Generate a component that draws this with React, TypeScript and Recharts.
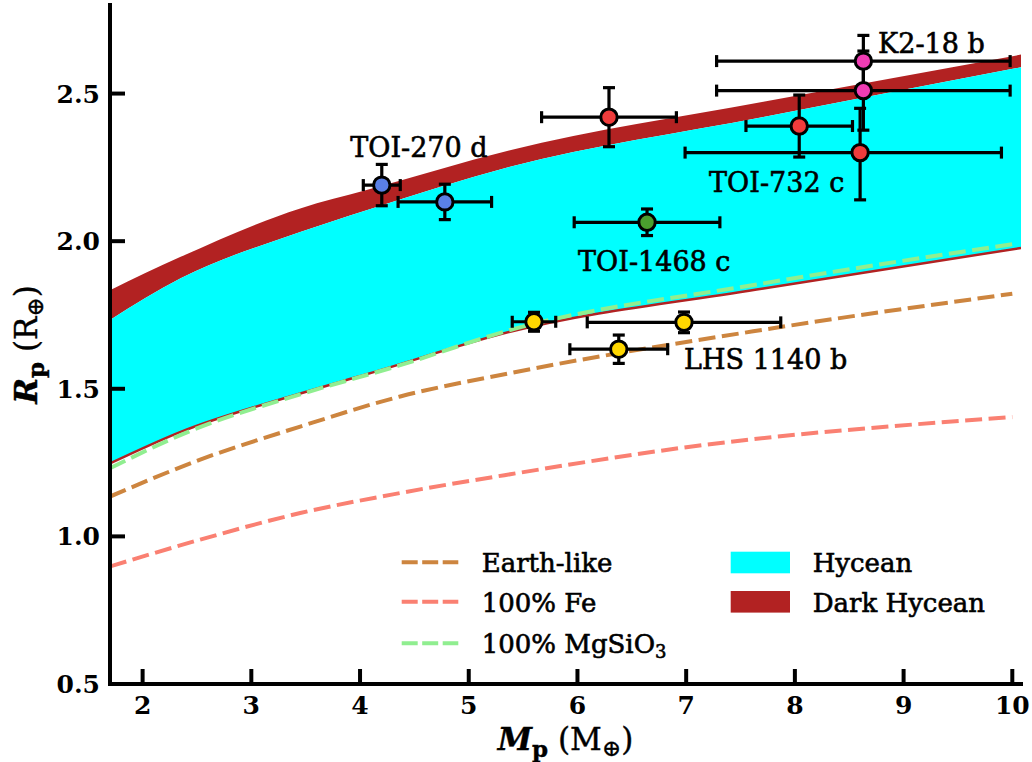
import React from 'react';
import {
  ComposedChart,
  Area,
  Line,
  Scatter,
  ErrorBar,
  XAxis,
  YAxis,
  ReferenceDot,
} from 'recharts';

const FONT = '"DejaVu Serif", serif';

const xTicks = [2, 3, 4, 5, 6, 7, 8, 9, 10];
const yTicks = [0.5, 1.0, 1.5, 2.0, 2.5];

// Hycean / Dark Hycean region edges (mass in M_earth, radius in R_earth)
const bandMass = [1.7, 2.35, 3.45, 4.06, 5.38, 7.71, 10.08];
const hyceanLow = [1.247, 1.354, 1.484, 1.549, 1.693, 1.84, 1.977];
const hyceanHigh = [1.733, 1.874, 2.031, 2.105, 2.252, 2.421, 2.589];
const darkHigh = [1.834, 1.947, 2.111, 2.173, 2.308, 2.472, 2.632];

// composition curves
const earthMass = [1.7, 2.53, 3.45, 4.37, 5.38, 7.71, 10.0];
const earthRadius = [1.135, 1.26, 1.372, 1.474, 1.553, 1.7, 1.822];
const feMass = [1.7, 2.53, 3.45, 4.37, 5.44, 6.94, 10.0];
const feRadius = [0.898, 0.989, 1.079, 1.147, 1.214, 1.299, 1.404];
const mgsiMass = [1.7, 2.47, 3.45, 4.37, 5.38, 7.71, 10.0];
const mgsiRadius = [1.231, 1.362, 1.481, 1.58, 1.699, 1.857, 1.99];

// planets: ex / ey are errors, [lower, upper] when asymmetric
const toi270 = [
  { x: 4.2, y: 2.19, ex: 0.17, ey: 0.07 },
  { x: 4.78, y: 2.133, ex: 0.43, ey: 0.06 },
];
const k218 = [
  { x: 8.63, y: 2.61, ex: 1.35, ey: 0.087 },
  { x: 8.63, y: 2.51, ex: 1.35, ey: 0.134 },
];
const toi732 = [
  { x: 6.29, y: 2.42, ex: 0.62, ey: 0.1 },
  { x: 8.04, y: 2.39, ex: 0.49, ey: 0.105 },
  { x: 8.6, y: 2.3, ex: [1.61, 1.3], ey: [0.16, 0.15] },
];
const toi1468 = [{ x: 6.64, y: 2.064, ex: 0.67, ey: 0.045 }];
const lhs1140 = [
  { x: 5.6, y: 1.727, ex: 0.2, ey: 0.032 },
  { x: 6.98, y: 1.725, ex: 0.89, ey: 0.035 },
  { x: 6.38, y: 1.634, ex: 0.45, ey: 0.048 },
];

const labelNames = ['TOI-270 d', 'K2-18 b', 'TOI-732 c', 'TOI-1468 c', 'LHS 1140 b'];
const labelMass = [3.91, 8.765, 7.211, 6.006, 6.981];
const labelRadius = [2.285, 2.636, 2.167, 1.898, 1.567];

const bands = bandMass.map((x, i) => ({
  x,
  low: hyceanLow[i],
  high: hyceanHigh[i],
  top: darkHigh[i],
}));
const toSeries = (xs: number[], ys: number[]) => xs.map((x, i) => ({ x, y: ys[i] }));
const earth = toSeries(earthMass, earthRadius);
const fe = toSeries(feMass, feRadius);
const mgsi = toSeries(mgsiMass, mgsiRadius);

const planets = [
  { data: toi270, color: '#5a80e6' },
  { data: k218, color: '#f03cb4' },
  { data: toi732, color: '#f03c3c' },
  { data: toi1468, color: '#4a9e2e' },
  { data: lhs1140, color: '#ffd700' },
];

const TICK_LEN = 15;
// regular text thickened a little, the figure's labels are heavier than a plain book weight
const heavy = { fontFamily: FONT, fill: '#000', stroke: '#000', strokeWidth: 0.6 };

const BottomTick = ({ x, y, payload }: any) => (
  <g>
    <line x1={x} y1={y} x2={x} y2={y - TICK_LEN} stroke="#000" strokeWidth={4} />
    <text x={x} y={y + 30} textAnchor="middle" fontFamily={FONT} fontWeight="bold" fontSize={25} fill="#000">
      {payload.value}
    </text>
  </g>
);
const TopTick = ({ x, y }: any) => (
  <line x1={x} y1={y} x2={x} y2={y + TICK_LEN} stroke="#000" strokeWidth={4} />
);
const LeftTick = ({ x, y, payload }: any) => (
  <g>
    <line x1={x} y1={y} x2={x + TICK_LEN} y2={y} stroke="#000" strokeWidth={4} />
    <text x={x - 10} y={y + 9} textAnchor="end" fontFamily={FONT} fontWeight="bold" fontSize={25} fill="#000">
      {Number(payload.value).toFixed(1)}
    </text>
  </g>
);
const RightTick = ({ x, y }: any) => (
  <line x1={x - TICK_LEN} y1={y} x2={x} y2={y} stroke="#000" strokeWidth={4} />
);

const XTitle = ({ viewBox }: any) => (
  <text x={viewBox.x + viewBox.width / 2} y={750} textAnchor="middle" fontSize={31} {...heavy} strokeWidth={0.4}>
    <tspan fontStyle="italic" fontWeight="bold">M</tspan>
    <tspan fontWeight="bold" fontSize={23} dy={7}>p</tspan>
    <tspan dy={-7}>{'\u00a0(M'}</tspan>
    <tspan fontSize={23} dy={6}>⊕</tspan>
    <tspan dy={-6}>)</tspan>
  </text>
);
const YTitle = ({ viewBox }: any) => {
  const cy = viewBox.y + viewBox.height / 2;
  return (
    <text
      x={37}
      y={cy}
      transform={`rotate(-90, 37, ${cy})`}
      textAnchor="middle"
      fontSize={31}
      {...heavy}
      strokeWidth={0.4}
    >
      <tspan fontStyle="italic" fontWeight="bold">R</tspan>
      <tspan fontWeight="bold" fontSize={23} dy={7}>p</tspan>
      <tspan dy={-7}>{'\u00a0(R'}</tspan>
      <tspan fontSize={23} dy={6}>⊕</tspan>
      <tspan dy={-6}>)</tspan>
    </text>
  );
};

const Marker = (color: string) => (props: any) =>
  <circle cx={props.cx} cy={props.cy} r={8.2} fill={color} stroke="#000" strokeWidth={3} />;

const DASH = '17 6.5';
const LEGEND_DASH = '16 4.5';

function LegendBox() {
  const txt = { ...heavy, fontSize: 26 };
  return (
    <svg width={630} height={130} style={{ position: 'absolute', left: 395, top: 535 }}>
      <line x1={6.7} y1={27.3} x2={63.3} y2={27.3} stroke="#CD853F" strokeWidth={4} strokeDasharray={LEGEND_DASH} />
      <text x={86.7} y={37.3} {...txt}>Earth-like</text>
      <line x1={6.7} y1={66.7} x2={63.3} y2={66.7} stroke="#FA8072" strokeWidth={4} strokeDasharray={LEGEND_DASH} />
      <text x={86.7} y={76.7} {...txt}>100% Fe</text>
      <line x1={6.7} y1={108.3} x2={63.3} y2={108.3} stroke="#90EE90" strokeWidth={4} strokeDasharray={LEGEND_DASH} />
      <text x={86.7} y={118.3} {...txt}>
        <tspan>100% MgSiO</tspan>
        <tspan fontSize={18} dy={5}>3</tspan>
      </text>
      <rect x={335.7} y={16.7} width={59.3} height={21.6} fill="#00FFFF" />
      <text x={417.7} y={37.3} {...txt}>Hycean</text>
      <rect x={335.7} y={56} width={59.3} height={21.6} fill="#B22222" />
      <text x={417.7} y={76.7} {...txt}>Dark Hycean</text>
    </svg>
  );
}

export default function App() {
  return (
    <div style={{ position: 'absolute', left: 0, top: 0, width: 1032, height: 762, background: '#fff' }}>
      <ComposedChart width={1032} height={762} margin={{ top: 5, right: 11, bottom: 0, left: 10 }}>
        <Area
          data={bands}
          xAxisId="b"
          yAxisId="l"
          type="monotone"
          dataKey={(d: any) => [d.high, d.top]}
          fill="#B22222"
          fillOpacity={1}
          stroke="none"
          isAnimationActive={false}
        />
        <Area
          data={bands}
          xAxisId="b"
          yAxisId="l"
          type="monotone"
          dataKey={(d: any) => [d.low, d.high]}
          fill="#00FFFF"
          fillOpacity={1}
          stroke="none"
          isAnimationActive={false}
        />
        <Line data={bands} xAxisId="b" yAxisId="l" type="monotone" dataKey="low" stroke="#B22222" strokeWidth={2.5} dot={false} activeDot={false} isAnimationActive={false} />
        <Line data={earth} xAxisId="b" yAxisId="l" type="monotone" dataKey="y" stroke="#CD853F" strokeWidth={4} strokeDasharray={DASH} dot={false} activeDot={false} isAnimationActive={false} />
        <Line data={fe} xAxisId="b" yAxisId="l" type="monotone" dataKey="y" stroke="#FA8072" strokeWidth={4} strokeDasharray={DASH} dot={false} activeDot={false} isAnimationActive={false} />
        <Line data={mgsi} xAxisId="b" yAxisId="l" type="monotone" dataKey="y" stroke="#90EE90" strokeWidth={4} strokeDasharray={DASH} dot={false} activeDot={false} isAnimationActive={false} />

        {planets.map((p, i) => (
          <Scatter
            key={i}
            data={p.data}
            xAxisId="b"
            yAxisId="l"
            dataKey="y"
            shape={Marker(p.color)}
            isAnimationActive={false}
          >
            <ErrorBar dataKey="ex" direction="x" width={6} stroke="#000" strokeWidth={3.2} isAnimationActive={false} />
            <ErrorBar dataKey="ey" direction="y" width={6} stroke="#000" strokeWidth={3.2} isAnimationActive={false} />
          </Scatter>
        ))}

        {labelNames.map((name, i) => (
          <ReferenceDot
            key={name}
            xAxisId="b"
            yAxisId="l"
            x={labelMass[i]}
            y={labelRadius[i]}
            r={0}
            shape={(props: any) => (
              <text x={props.cx} y={props.cy} fontSize={27} {...heavy}>
                {name}
              </text>
            )}
          />
        ))}

        <XAxis
          xAxisId="b"
          dataKey="x"
          type="number"
          domain={[1.7, 10.08]}
          ticks={xTicks}
          allowDataOverflow
          height={78}
          tickSize={0}
          tickMargin={0}
          tickLine={false}
          tick={<BottomTick />}
          axisLine={{ stroke: '#000', strokeWidth: 4, strokeLinecap: 'square' }}
          label={<XTitle />}
        />
        <XAxis
          xAxisId="t"
          orientation="top"
          dataKey="x"
          type="number"
          domain={[1.7, 10.08]}
          ticks={xTicks}
          allowDataOverflow
          height={0}
          tickSize={0}
          tickMargin={0}
          tickLine={false}
          tick={<TopTick />}
          axisLine={{ stroke: '#000', strokeWidth: 4, strokeLinecap: 'square' }}
        />
        <YAxis
          yAxisId="l"
          type="number"
          domain={[0.5, 2.8]}
          ticks={yTicks}
          allowDataOverflow
          width={100}
          tickSize={0}
          tickMargin={0}
          tickLine={false}
          tick={<LeftTick />}
          axisLine={{ stroke: '#000', strokeWidth: 4, strokeLinecap: 'square' }}
          label={<YTitle />}
        />
        <YAxis
          yAxisId="r"
          orientation="right"
          type="number"
          domain={[0.5, 2.8]}
          ticks={yTicks}
          allowDataOverflow
          width={0}
          tickSize={0}
          tickMargin={0}
          tickLine={false}
          tick={<RightTick />}
          axisLine={{ stroke: '#000', strokeWidth: 4, strokeLinecap: 'square' }}
        />
      </ComposedChart>
      <LegendBox />
    </div>
  );
}
